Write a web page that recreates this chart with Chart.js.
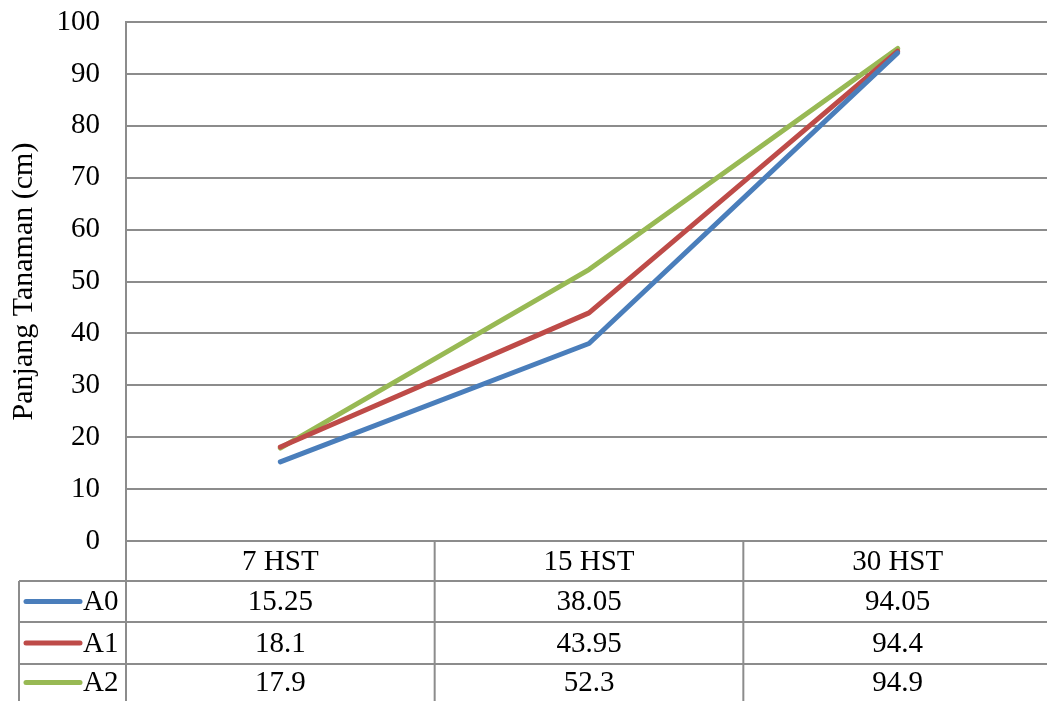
<!DOCTYPE html>
<html>
<head>
<meta charset="utf-8">
<script src="https://cdn.jsdelivr.net/npm/chart.js@4"></script>
<style>
  html, body { margin: 0; padding: 0; background: #fff; overflow: hidden; }
  #wrap { width: 1047px; height: 701px; overflow: hidden; }
</style>
</head>
<body>
<div id="wrap"><canvas id="chart" width="1052" height="701"></canvas></div>
<script>
// Data
const categories = ['7 HST', '15 HST', '30 HST'];
const seriesNames = ['A0', 'A1', 'A2'];
const valuesA0 = [15.25, 38.05, 94.05];
const valuesA1 = [18.1, 43.95, 94.4];
const valuesA2 = [17.9, 52.3, 94.9];
const tableLabelsA0 = ['15.25', '38.05', '94.05'];
const tableLabelsA1 = ['18.1', '43.95', '94.4'];
const tableLabelsA2 = ['17.9', '52.3', '94.9'];
const colors = ['#4a7ebb', '#be4b48', '#98b954'];

const FONT = '"Liberation Serif", "Times New Roman", serif';
const GRID = '#8c8c8c';
const TXT = 29;

const tableRows = [tableLabelsA0, tableLabelsA1, tableLabelsA2];

// Data table under the plot, drawn from the x scale
const dataTable = {
  id: 'dataTable',
  afterDraw(chart) {
    const ctx = chart.ctx;
    const x = chart.scales.x;
    const area = chart.chartArea;
    const top = area.bottom;
    const rowEdges = [top, top + 40, top + 81, top + 123, chart.height];
    const leftBox = 19;
    const colW = (area.right - area.left) / categories.length;

    ctx.save();
    ctx.strokeStyle = GRID;
    ctx.lineWidth = 2;
    // horizontal lines
    for (let i = 1; i < 4; i++) {
      ctx.beginPath();
      ctx.moveTo(leftBox, rowEdges[i]);
      ctx.lineTo(area.right, rowEdges[i]);
      ctx.stroke();
    }
    // left border of series label column
    ctx.beginPath();
    ctx.moveTo(leftBox, rowEdges[1]);
    ctx.lineTo(leftBox, chart.height);
    ctx.stroke();
    // vertical separators
    for (let c = 0; c <= categories.length; c++) {
      const vx = area.left + c * colW;
      ctx.beginPath();
      ctx.moveTo(vx, c === 0 ? area.top : top);
      ctx.lineTo(vx, chart.height);
      ctx.stroke();
    }

    ctx.fillStyle = '#000';
    ctx.font = TXT + 'px ' + FONT;
    ctx.textBaseline = 'middle';
    ctx.textAlign = 'center';
    categories.forEach((cat, i) => {
      ctx.fillText(cat, x.getPixelForValue(i), (rowEdges[0] + rowEdges[1]) / 2 + 1);
    });
    tableRows.forEach((row, r) => {
      const cy = (rowEdges[r + 1] + rowEdges[r + 2]) / 2 + 1;
      row.forEach((txt, i) => {
        ctx.textAlign = 'center';
        ctx.fillText(txt, x.getPixelForValue(i), cy);
      });
      // legend key
      ctx.strokeStyle = colors[r];
      ctx.lineWidth = 5;
      ctx.lineCap = 'round';
      ctx.beginPath();
      ctx.moveTo(26, cy - 1);
      ctx.lineTo(80, cy - 1);
      ctx.stroke();
      ctx.textAlign = 'left';
      ctx.fillText(seriesNames[r], 83, cy);
    });
    ctx.restore();
  }
};

const makeSet = (label, data, color) => ({
  label: label,
  data: data,
  borderColor: color,
  backgroundColor: color,
  borderWidth: 5,
  pointRadius: 0,
  tension: 0,
  borderCapStyle: 'round',
  borderJoinStyle: 'round'
});

new Chart(document.getElementById('chart'), {
  type: 'line',
  data: {
    labels: categories,
    datasets: [
      makeSet(seriesNames[0], valuesA0, colors[0]),
      makeSet(seriesNames[1], valuesA1, colors[1]),
      makeSet(seriesNames[2], valuesA2, colors[2])
    ]
  },
  options: {
    responsive: false,
    animation: false,
    layout: { padding: { top: 22, right: 0, bottom: 160, left: 0 } },
    plugins: {
      legend: { display: false },
      tooltip: { enabled: false }
    },
    scales: {
      x: {
        display: false,
        offset: true
      },
      y: {
        min: 0,
        max: 100,
        afterFit(scale) {
          scale.width = 126;
          scale.paddingTop = 0;
          scale.paddingBottom = 0;
        },
        ticks: {
          stepSize: 10,
          color: '#000',
          padding: 26,
          font: { family: FONT, size: TXT }
        },
        grid: {
          color: GRID,
          lineWidth: 2,
          drawTicks: false
        },
        border: { display: true, color: GRID, width: 2 },
        title: {
          display: true,
          text: 'Panjang Tanaman (cm)',
          color: '#000',
          padding: { top: 6 },
          font: { family: FONT, size: 30 }
        }
      }
    }
  },
  plugins: [dataTable]
});
</script>
</body>
</html>
